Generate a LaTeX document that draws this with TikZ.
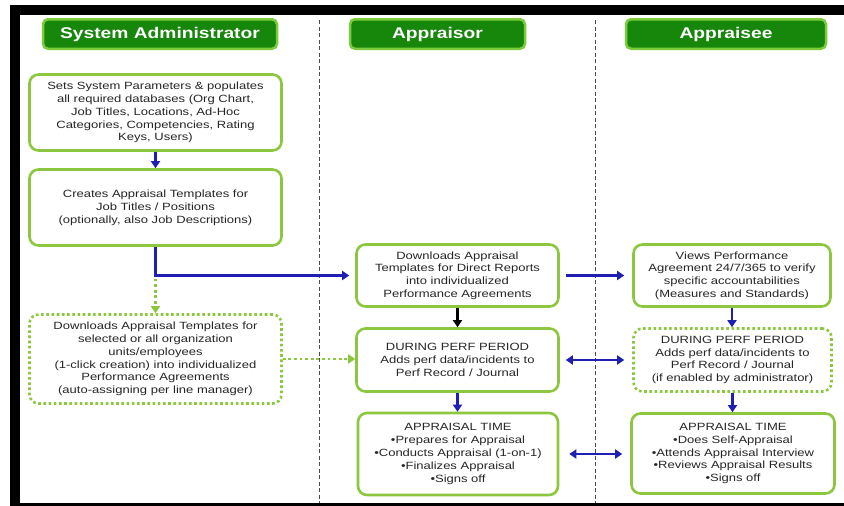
\documentclass[tikz,border=0pt]{standalone}
\usepackage{fontspec}
\setmainfont{Liberation Sans}[FakeStretch=1.24]
\usetikzlibrary{arrows.meta}
\definecolor{lgreen}{HTML}{8DC63F}
\definecolor{dgreen}{HTML}{17870C}
\definecolor{hborder}{HTML}{7CCB3A}
\definecolor{arrblue}{HTML}{1F1FB4}
\definecolor{txt}{HTML}{262626}
\newcommand\bodyf{\fontsize{10.5}{12.8}\selectfont}
\begin{document}
\begin{tikzpicture}[x=1pt,y=-1pt,
  hdr/.style={fill=dgreen, draw=hborder, line width=2.5pt, rounded corners=5pt,
    minimum height=29.5pt, text=white, inner sep=0pt,
    font=\fontsize{15.5}{18}\selectfont\bfseries},
  box/.style={draw=lgreen, line width=2.6pt, rounded corners=9pt, fill=white,
    align=center, font=\bodyf, text=txt, inner sep=0pt},
  dotbox/.style={box, dash pattern=on 2.6pt off 2.6pt},
  sepline/.style={draw=black!70, line width=0.8pt, dash pattern=on 4pt off 2.5pt},
  tip/.style={},
  barr/.style={draw=arrblue, line width=2.3pt, -{Triangle[length=7pt,width=9pt]}},
  barrs/.style={draw=arrblue, line width=2.3pt, {Triangle[length=7pt,width=9pt]}-{Triangle[length=7pt,width=9pt]}},
  karr/.style={draw=black, line width=2.3pt, -{Triangle[length=7pt,width=9pt]}},
  garr/.style={draw=lgreen, line width=2.8pt, dash pattern=on 2.8pt off 2.8pt,
    -{Triangle[length=7pt,width=9pt]}}
]
\useasboundingbox (0,0) rectangle (844,506);
\fill[white] (0,0) rectangle (844,506);
% frame
\fill[black] (10,5) rectangle (844,15);
\fill[black] (10,5) rectangle (20,506);
\fill[black] (10,503) rectangle (844,506);
% lane separators
\draw[sepline] (319,20) -- (319,503);
\draw[sepline] (595,20) -- (595,503);
% headers
\node[hdr, minimum width=234pt] (h1) at (160,34) {System Administrator};
\node[hdr, minimum width=175pt] (h2) at (437.5,34) {Appraisor};
\node[hdr, minimum width=200pt] (h3) at (726,34) {Appraisee};
% system administrator lane
\node[box, minimum width=252pt, minimum height=76pt] (b1) at (155.5,112.5)
  {Sets System Parameters \& populates\\all required databases (Org Chart,\\Job Titles, Locations, Ad-Hoc\\Categories, Competencies, Rating\\Keys, Users)};
\node[box, minimum width=252pt, minimum height=76pt] (b2) at (155.5,207.5)
  {Creates Appraisal Templates for\\Job Titles / Positions\\(optionally, also Job Descriptions)};
\node[dotbox, minimum width=252pt, minimum height=89pt] (b3) at (155.5,359)
  {Downloads Appraisal Templates for\\selected or all organization\\units/employees\\(1-click creation) into individualized\\Performance Agreements\\(auto-assigning per line manager)};
% appraisor lane
\node[box, minimum width=202pt, minimum height=62pt] (b4) at (457.5,275.5)
  {Downloads Appraisal\\Templates for Direct Reports\\into individualized\\Performance Agreements};
\node[box, minimum width=202pt, minimum height=63pt] (b5) at (457.5,360)
  {DURING PERF PERIOD\\Adds perf data/incidents to\\Perf Record / Journal};
\node[box, minimum width=200pt, minimum height=82pt] (b6) at (458,454)
  {APPRAISAL TIME\\\textbullet Prepares for Appraisal\\\textbullet Conducts Appraisal (1-on-1)\\\textbullet Finalizes Appraisal\\\textbullet Signs off};
% appraisee lane
\node[box, minimum width=197pt, minimum height=62pt] (b7) at (732,275.5)
  {Views Performance\\Agreement 24/7/365 to verify\\specific accountabilities\\(Measures and Standards)};
\node[dotbox, minimum width=198pt, minimum height=63pt] (b8) at (732.5,360)
  {DURING PERF PERIOD\\Adds perf data/incidents to\\Perf Record / Journal\\(if enabled by administrator)};
\node[box, minimum width=203pt, minimum height=80pt] (b9) at (733,453.5)
  {APPRAISAL TIME\\\textbullet Does Self-Appraisal\\\textbullet Attends Appraisal Interview\\\textbullet Reviews Appraisal Results\\\textbullet Signs off};
% connectors
\draw[barr] (b1.south) -- (b1.south |- b2.north);
\coordinate (corner) at (b2.south |- b4.west);
\draw[barr, shorten >=6pt] (b2.south) |- (b4.west);
\draw[garr, shorten <=3pt] (corner) -- (corner |- b3.north);
\draw[garr] (b3.east) -- (b3.east -| b5.west);
\draw[karr] (b4.south) -- (b4.south |- b5.north);
\draw[barr] (b5.south) -- (b5.south |- b6.north);
\draw[barr] (b7.south) -- (b7.south |- b8.north);
\draw[barr] (b8.south) -- (b8.south |- b9.north);
\draw[barr, shorten <=6pt, shorten >=8pt] (b4.east) -- (b7.west);
\draw[barrs, shorten <=6pt, shorten >=8pt] (b5.east) -- (b5.east -| b8.west);
\draw[barrs, shorten <=10pt, shorten >=8pt] (b6.east) -- (b6.east -| b9.west);
\end{tikzpicture}
\end{document}
